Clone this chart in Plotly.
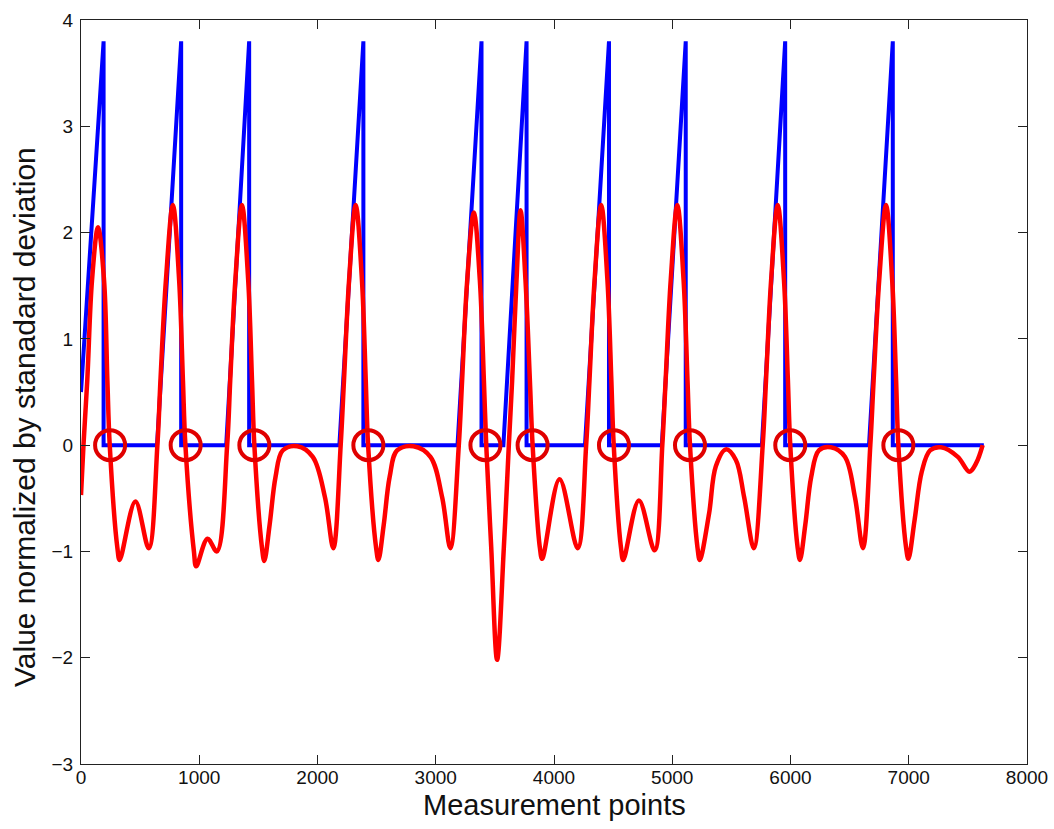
import plotly.graph_objects as go

# Blue sawtooth (reference signal)
blue_x = [0, 191, 191, 643, 847, 847, 1228, 1422, 1422, 2185, 2388, 2388,
          3184, 3387, 3387, 3572, 3768, 3768, 4262, 4465, 4465, 4912, 5114, 5114,
          5758, 5955, 5955, 6664, 6865, 6865, 7635]
blue_y = [0.5, 3.8, 0, 0, 3.8, 0, 0, 3.8, 0, 0, 3.8, 0,
          0, 3.8, 0, 0, 3.8, 0, 0, 3.8, 0, 0, 3.8, 0,
          0, 3.8, 0, 0, 3.8, 0, 0]

# Red filtered signal (key points)
red_x = [0, 21, 53, 93, 144, 195, 223, 243, 307, 327, 460, 573,
         646, 672, 718, 777, 830, 862, 883, 955, 974, 1070, 1149,
         1236, 1262, 1305, 1361, 1414, 1446, 1466, 1530, 1550, 1595, 1645, 1705, 1829, 1960, 2063, 2134,
         2196, 2224, 2267, 2323, 2376, 2408, 2428, 2495, 2515, 2560, 2610, 2673, 2811, 2955, 3054, 3124,
         3195, 3223, 3266, 3322, 3373, 3407, 3427, 3469, 3519, 3576,
         3618, 3646, 3683, 3717, 3759, 3796, 3819, 3880, 3900, 4047, 4200,
         4272, 4300, 4343, 4399, 4452, 4485, 4505, 4566, 4586, 4718, 4851,
         4916, 4944, 4987, 5043, 5096, 5129, 5150, 5213, 5233, 5312, 5368, 5453, 5538, 5608, 5690,
         5765, 5793, 5836, 5892, 5945, 5978, 5998, 6060, 6080, 6125, 6175, 6240, 6342, 6460, 6545, 6613,
         6675, 6703, 6750, 6808, 6860, 6893, 6912, 6977, 6997, 7050, 7110, 7180, 7273, 7415, 7513, 7570, 7625]
red_y = [-0.47, 0.0, 0.61, 1.55, 2.05, 1.55, 0.61, 0.0, -0.96, -1.08, -0.53, -0.97,
         0.0, 0.61, 1.55, 2.26, 1.55, 0.61, 0.0, -1.0, -1.14, -0.88, -1.0,
         0.0, 0.61, 1.55, 2.26, 1.55, 0.61, 0.0, -0.96, -1.09, -0.75, -0.3, -0.05, -0.01, -0.11, -0.49, -0.97,
         0.0, 0.61, 1.55, 2.26, 1.55, 0.61, 0.0, -0.96, -1.08, -0.75, -0.3, -0.05, -0.01, -0.11, -0.49, -0.97,
         0.0, 0.61, 1.55, 2.19, 1.55, 0.61, 0.0, -0.96, -2.02, -0.96,
         0.0, 0.61, 1.55, 2.21, 1.55, 0.61, 0.0, -0.96, -1.07, -0.32, -0.97,
         0.0, 0.61, 1.55, 2.26, 1.55, 0.61, 0.0, -0.96, -1.08, -0.52, -0.99,
         0.0, 0.61, 1.55, 2.26, 1.55, 0.61, 0.0, -0.96, -1.08, -0.64, -0.2, -0.04, -0.14, -0.49, -0.97,
         0.0, 0.61, 1.55, 2.26, 1.55, 0.61, 0.0, -0.96, -1.08, -0.75, -0.3, -0.05, -0.02, -0.11, -0.49, -0.97,
         0.0, 0.61, 1.55, 2.26, 1.55, 0.61, 0.0, -0.96, -1.07, -0.7, -0.25, -0.05, -0.02, -0.11, -0.25, -0.17, 0.0]

# Detected events (circles)
circle_x = [246, 885, 1466, 2430, 3420, 3819, 4507, 5150, 5998, 6912]
circle_y = [0] * len(circle_x)

x_ticks = [0, 1000, 2000, 3000, 4000, 5000, 6000, 7000, 8000]
y_ticks = [-3, -2, -1, 0, 1, 2, 3, 4]

FONT = "Liberation Sans, Arial, Helvetica, sans-serif"
TICK_FONT = "Liberation Sans Narrow, Arial Narrow, Liberation Sans, Arial, sans-serif"

fig = go.Figure()
fig.add_trace(go.Scatter(x=blue_x, y=blue_y, mode="lines",
                         line=dict(color="#0000ff", width=4), showlegend=False))
fig.add_trace(go.Scatter(x=red_x, y=red_y, mode="lines",
                         line=dict(color="#ff0000", width=4.5, shape="spline", smoothing=1.0),
                         showlegend=False))
fig.add_trace(go.Scatter(x=circle_x, y=circle_y, mode="markers",
                         marker=dict(symbol="circle-open", size=30, color="#e00000",
                                     line=dict(width=4, color="#e00000")),
                         showlegend=False))

axis_common = dict(showgrid=False, zeroline=False, showline=True, linecolor="#222",
                   linewidth=1.2, mirror="ticks", ticks="inside", ticklen=9,
                   tickcolor="#222", tickwidth=1.2, automargin=False,
                   tickfont=dict(family=TICK_FONT, size=19, color="#111"))

L, R, T, B = 81, 27, 20, 65
W, H = 1054, 829
plot_w = W - L - R
plot_h = H - T - B

fig.update_layout(
    width=W, height=H,
    margin=dict(l=L, r=R, t=T, b=B, autoexpand=False),
    plot_bgcolor="white", paper_bgcolor="white",
    xaxis=dict(range=[0, 8000], tickvals=x_ticks, ticklabelstandoff=-4, **axis_common),
    yaxis=dict(range=[-3, 4], tickvals=y_ticks, ticklabelstandoff=3, **axis_common),
    annotations=[
        dict(text="Measurement points", x=0.5, xref="paper",
             y=-(805 - (H - B)) / plot_h, yref="paper",
             xanchor="center", yanchor="middle", showarrow=False,
             font=dict(family=FONT, size=29, color="#111")),
        dict(text="Value normalized by stanadard deviation",
             x=(24 - L) / plot_w, xref="paper",
             y=((H - B) - 417) / plot_h, yref="paper",
             xanchor="center", yanchor="middle", textangle=-90, showarrow=False,
             font=dict(family=FONT, size=30, color="#111")),
    ],
)

fig.write_html("out.html")
